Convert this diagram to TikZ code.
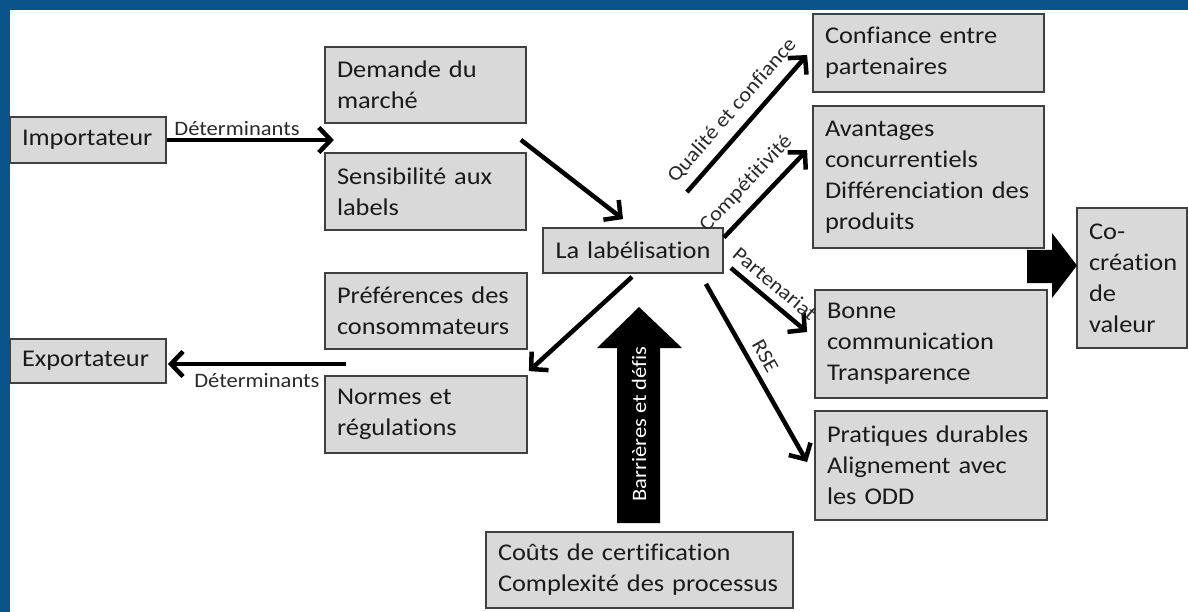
\documentclass[tikz,border=0pt]{standalone}
\usepackage{fontspec}
\setmainfont{Carlito}[FakeStretch=1.1, Ligatures=NoCommon]
\usetikzlibrary{arrows.meta,calc}

\definecolor{framecol}{HTML}{0A548C}
\definecolor{boxfill}{HTML}{D9D9D9}
\definecolor{boxedge}{HTML}{404040}
\definecolor{textcol}{HTML}{1A1A1A}
\definecolor{labelcol}{HTML}{2A2A2A}

\newcommand\nodetextfont{\fontsize{24}{31}\selectfont}
\newcommand\labeltextfont{\fontsize{20.5}{24}\selectfont}

\begin{document}
\begin{tikzpicture}[x=1pt,y=-1pt,
  box/.style={draw=boxedge, fill=boxfill, line width=1.8pt, rectangle,
    inner xsep=12pt, inner ysep=3pt, align=left, font=\nodetextfont, text=textcol},
  conn/.style={draw=black, line width=4.5pt,
    -{Straight Barb[length=12pt,width=25pt]}},
  lbl/.style={font=\labeltextfont, text=labelcol, inner sep=2pt},
  block/.style={fill=black}]

% page and blue frame
\useasboundingbox (0,0) rectangle (1188,612);
\fill[framecol] (0,0) rectangle (1188,612);
\fill[white] (10,10) rectangle (1188,612);

% boxes
\node[box, minimum width=156pt, minimum height=46pt, text width=132pt] (imp) at (88,140) {Importateur};
\node[box, minimum width=156pt, minimum height=44pt, text width=132pt] (exp) at (88,361) {Exportateur};

\node[box, minimum width=201pt, minimum height=76pt, text width=177pt] (dem) at (425.5,85) {Demande du\\march\'e};
\node[box, minimum width=201pt, minimum height=77pt, text width=177pt] (sens) at (425.5,191.5) {Sensibilit\'e aux\\labels};
\node[box, minimum width=202pt, minimum height=76pt, text width=178pt] (pref) at (426,311) {Pr\'ef\'erences des\\consommateurs};
\node[box, minimum width=202pt, minimum height=77pt, text width=178pt] (norm) at (426,414.5) {Normes et\\r\'egulations};

\node[box, align=center, minimum width=180pt, minimum height=45pt, text width=156pt] (lab) at (633,250.5) {La lab\'elisation};

\node[box, minimum width=307pt, minimum height=76pt, text width=283pt] (cout) at (639.5,570) {Co\^uts de certification\\Complexit\'e des processus};

\node[box, minimum width=231pt, minimum height=78pt, text width=207pt] (conf) at (928.5,53) {Confiance entre\\partenaires};
\node[box, minimum width=231pt, minimum height=142pt, text width=207pt] (avan) at (928.5,177) {Avantages\\concurrentiels\\Diff\'erenciation des\\produits};
\node[box, minimum width=232pt, minimum height=108pt, text width=208pt] (bonne) at (931,344) {Bonne\\communication\\Transparence};
\node[box, minimum width=232pt, minimum height=109pt, text width=208pt] (prat) at (931,465.5) {Pratiques durables\\Alignement avec\\les ODD};

\node[box, minimum width=110pt, minimum height=140pt, text width=86pt] (cocr) at (1132,278) {Co-\\cr\'eation\\de\\valeur};

% connectors
\draw[conn] (imp.east) -- node[lbl, above, pos=0.42] {D\'eterminants} ($(imp.east)+(167,0)$);
\draw[conn] ($(exp.east)+(179,3)$) -- node[lbl, below=5pt, pos=0.5] {D\'eterminants} ($(exp.east)+(1,3)$);

\draw[conn] ($(dem.south east)+(-6,16)$) -- ($(lab.north)+(-10,-8)$);
\draw[conn] ($(lab.south)+(-1,3)$) -- ($(norm.north east)+(1,-4)$);

\draw[conn] ($(lab.north east)+(-37,-35)$) -- node[lbl, sloped, above=7pt, pos=0.5] {Qualit\'e et confiance} ($(conf.west)+(-5,2)$);
\draw[conn] ($(lab.east)+(0,-13)$) -- node[lbl, sloped, above=8pt, pos=0.45] {Comp\'etitivit\'e} ($(avan.west)+(-5,-27)$);
\draw[conn] ($(lab.east)+(7,17.5)$) -- node[lbl, sloped, above=5pt, pos=0.44] {Partenariat} ($(bonne.west)+(-7,-12)$);
\draw[conn] ($(lab.south east)+(-18,10)$) -- node[lbl, sloped, above=5pt, pos=0.45] {RSE} ($(prat.west)+(-7,-3.5)$);

% block arrows
\fill[block] (617,523) -- (617,348) -- (597,348) -- (639,307) -- (682,348)
  -- (660,348) -- (660,523) -- cycle;
\node[lbl, text=white, rotate=90] (barr) at (639,424) {Barri\`eres et d\'efis};

\fill[block] (1027,250) -- (1052,250) -- (1052,233) -- (1077,265.5)
  -- (1052,298) -- (1052,283) -- (1027,283) -- cycle;

\end{tikzpicture}
\end{document}
